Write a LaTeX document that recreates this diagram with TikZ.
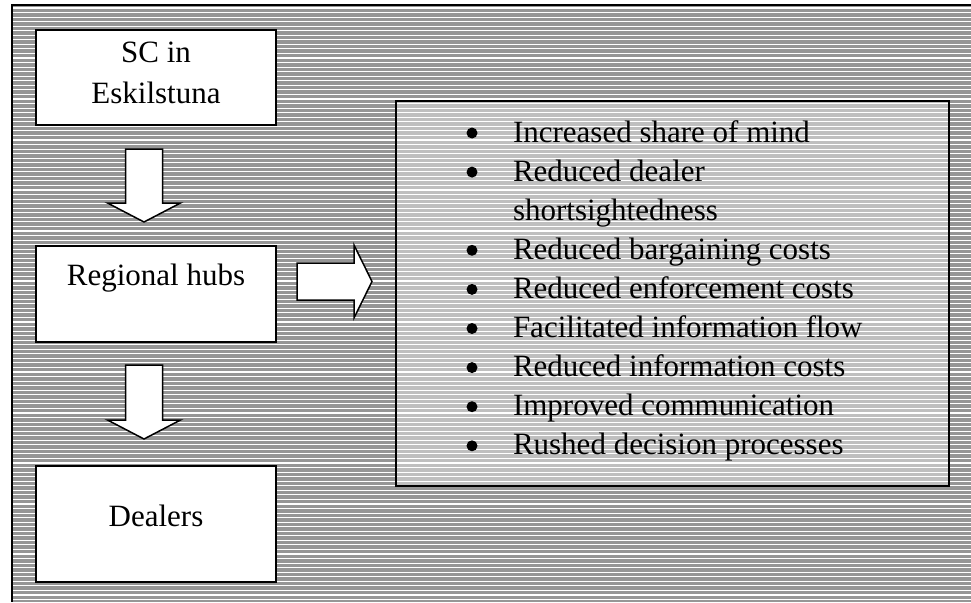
\documentclass[tikz,border=0pt]{standalone}
\usepackage{fontspec}
\setmainfont{Liberation Serif}
\begin{document}
\begin{tikzpicture}[x=1pt,y=-1pt,
  panel/.style={draw=black,line width=2pt,fill=white,outer sep=0pt,inner sep=0pt},
  listpanel/.style={draw=black,line width=2.4pt,outer sep=0pt,inner sep=0pt},
  blockarrow/.style={draw=black,line width=1.5pt,fill=white,line join=miter},
  txt/.style={inner sep=0pt,outer sep=0pt,font=\fontsize{31}{39}\selectfont},
  dot/.style={circle,fill=black,inner sep=0pt,minimum size=11pt},
]
\definecolor{stripegray}{RGB}{150,150,150}
\definecolor{lightstripe}{RGB}{191,191,191}
\useasboundingbox (0,0) rectangle (971,602);

% striped background of the frame and of the list panel
\fill[stripegray] (12,5) rectangle (971,602);
\fill[lightstripe] (396,101) rectangle (949,486);
\begin{scope}
  \clip (12,5) rectangle (971,602);
  \foreach \k in {0,...,131}
    \draw[white,line width=1.1pt] (12,8+4.55*\k) -- (971,8+4.55*\k);
\end{scope}
\draw[black,line width=1.5pt] (971,5) -- (12,5) -- (12,602);

% left column boxes
\node[panel,minimum width=240pt,minimum height=95pt] (sc) at (156,77.5) {};
\node[panel,minimum width=240pt,minimum height=96pt] (hubs) at (156,294) {};
\node[panel,minimum width=240pt,minimum height=116pt] (dealers) at (156,524) {};

\node[txt,anchor=base] (sc1) at (156,63) {SC in};
\node[txt,anchor=base] (sc2) at (156,103) {Eskilstuna};
\node[txt,anchor=base] (hubstext) at (156,285) {Regional hubs};
\node[txt,anchor=base] (dealerstext) at (156,526) {Dealers};

% block arrows
\draw[blockarrow] (125.5,149) -- (162.5,149) -- (162.5,203) -- (180.5,203)
  -- (144,222) -- (107.5,203) -- (125.5,203) -- cycle;
\draw[blockarrow] (125.5,365) -- (162.5,365) -- (162.5,420) -- (180.5,420)
  -- (144,439) -- (107.5,420) -- (125.5,420) -- cycle;
\draw[blockarrow] (297,263) -- (354,263) -- (354,245) -- (372,281.5)
  -- (354,318) -- (354,300) -- (297,300) -- cycle;

% list panel
\node[listpanel,minimum width=553pt,minimum height=385pt] (list) at (672.5,293.5) {};

\node[dot] (b1) at (472,133) {};
\node[txt,anchor=base west] (t1) at (513,142) {Increased share of mind};
\node[dot] (b2) at (472,172.1) {};
\node[txt,anchor=base west] (t2) at (513,181.1) {Reduced dealer};
\node[txt,anchor=base west] (t2b) at (513,220.2) {shortsightedness};
\node[dot] (b3) at (472,250.3) {};
\node[txt,anchor=base west] (t3) at (513,259.3) {Reduced bargaining costs};
\node[dot] (b4) at (472,289.4) {};
\node[txt,anchor=base west] (t4) at (513,298.4) {Reduced enforcement costs};
\node[dot] (b5) at (472,328.5) {};
\node[txt,anchor=base west] (t5) at (513,337.5) {Facilitated information flow};
\node[dot] (b6) at (472,367.6) {};
\node[txt,anchor=base west] (t6) at (513,376.6) {Reduced information costs};
\node[dot] (b7) at (472,406.7) {};
\node[txt,anchor=base west] (t7) at (513,415.7) {Improved communication};
\node[dot] (b8) at (472,445.8) {};
\node[txt,anchor=base west] (t8) at (513,454.8) {Rushed decision processes};
\end{tikzpicture}
\end{document}
